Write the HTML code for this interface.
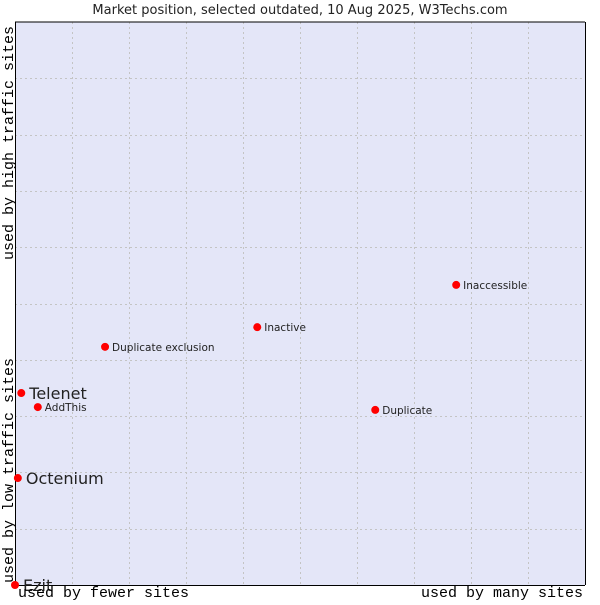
<!DOCTYPE html>
<html><head><meta charset="utf-8"><style>
body{margin:0;background:#fff;}
svg text{font-family:"DejaVu Sans","Liberation Sans",sans-serif;}
</style></head><body>
<svg width="600" height="600" viewBox="0 0 600 600" xmlns="http://www.w3.org/2000/svg" id="chart">
<text x="300" y="14" text-anchor="middle" font-size="13" fill="#222">Market position, selected outdated, 10 Aug 2025, W3Techs.com</text>
<rect x="15" y="22" width="570" height="563" fill="#e4e6f8"/>
<g id="grid"></g>
<line x1="15" y1="22" x2="585" y2="22" stroke="#000" stroke-width="1"/>
<line x1="15.5" y1="22" x2="15.5" y2="585" stroke="#000" stroke-width="1"/>
<line x1="15" y1="585.5" x2="585" y2="585.5" stroke="#000" stroke-width="1"/>
<line x1="585.5" y1="22" x2="585.5" y2="585" stroke="#000" stroke-width="1"/>
<g id="points"></g>
<text x="18" y="597" font-size="15" fill="#000" style="font-family:'Liberation Mono',monospace">used by fewer sites</text>
<text x="583" y="597" text-anchor="end" font-size="15" fill="#000" style="font-family:'Liberation Mono',monospace">used by many sites</text>
<text transform="translate(13,583) rotate(-90)" font-size="15" fill="#000" style="font-family:'Liberation Mono',monospace">used by low traffic sites</text>
<text transform="translate(13,260) rotate(-90)" font-size="15" fill="#000" style="font-family:'Liberation Mono',monospace">used by high traffic sites</text>
</svg>
<script>
const names = ["Ezit","Octenium","Telenet","AddThis","Duplicate exclusion","Inactive","Inaccessible","Duplicate"];
const xValues = [0,0.5,1.1,4.0,15.8,42.5,77.4,63.2];
const yValues = [0,19.0,34.1,31.6,42.3,45.8,53.3,31.1];
const bigLabel = [true,true,true,false,false,false,false,false];
const gridSteps = [1,2,3,4,5,6,7,8,9];
const L=15,R=585,T=22,B=585;
const xs=v=>L+v/100*(R-L);
const ys=v=>B-v/100*(B-T);
const NS="http://www.w3.org/2000/svg";
const grid=document.getElementById('grid');
gridSteps.forEach(s=>{
  const v=document.createElementNS(NS,'line');
  
  
  const x=Math.round(xs(s*10))+0.5;
  v.setAttribute('x1',x);v.setAttribute('x2',x);v.setAttribute('y1',T);v.setAttribute('y2',B);
  v.setAttribute('stroke','#c4c4c4');v.setAttribute('stroke-dasharray','2,3');
  grid.appendChild(v);
  const h=document.createElementNS(NS,'line');
  
  
  const y=Math.round(ys(s*10))+0.5;
  h.setAttribute('x1',L);h.setAttribute('x2',R);h.setAttribute('y1',y);h.setAttribute('y2',y);
  h.setAttribute('stroke','#c4c4c4');h.setAttribute('stroke-dasharray','2,3');
  grid.appendChild(h);
});
const pts=document.getElementById('points');
names.forEach((n,i)=>{
  const x=xs(xValues[i]),y=ys(yValues[i]);
  const c=document.createElementNS(NS,'circle');
  
  
  c.setAttribute('cx',x);c.setAttribute('cy',y);c.setAttribute('r',4);c.setAttribute('fill','#f00');
  pts.appendChild(c);
  const t=document.createElementNS(NS,'text');
  
  
  t.setAttribute('x',x+(bigLabel[i]?8:7));
  t.setAttribute('y',y+(bigLabel[i]?6:4));
  t.setAttribute('font-size',bigLabel[i]?16:10.5);
  t.setAttribute('fill','#222');
  t.textContent=n;
  pts.appendChild(t);
});
</script>
</body></html>
